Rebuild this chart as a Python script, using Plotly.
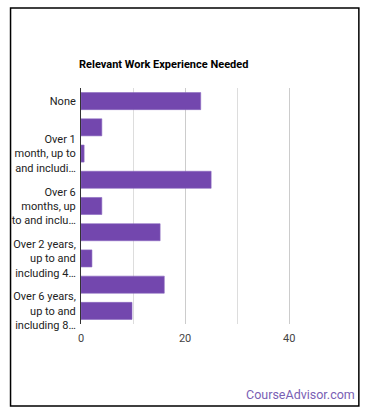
import plotly.graph_objects as go

categories = [
    "None",
    "Up to and including 1 month",
    "Over 1 month, up to and including 3 months",
    "Over 3 months, up to and including 6 months",
    "Over 6 months, up to and including 1 year",
    "Over 1 year, up to and including 2 years",
    "Over 2 years, up to and including 4 years",
    "Over 4 years, up to and including 6 years",
    "Over 6 years, up to and including 8 years",
]
values = [23, 4, 0.6, 25, 4, 15.2, 2.1, 16, 9.8]

label_categories = [categories[i] for i in (0, 2, 4, 6, 8)]
label_texts = [
    "None",
    "Over 1<br>month, up to<br>and includi…",
    "Over 6<br>months, up<br>to and inclu…",
    "Over 2 years,<br>up to and<br>including 4…",
    "Over 6 years,<br>up to and<br>including 8…",
]
x_ticks = [0, 20, 40]

W, H = 370, 417
ML, MR, MT, MB = 79, 29, 88, 93
pw, ph = W - ML - MR, H - MT - MB

fig = go.Figure(go.Bar(
    y=categories, x=values, orientation="h",
    marker=dict(color="#7347AE", line=dict(color="#8A68BF", width=0.6)),
    width=0.65, hoverinfo="x+y",
))

def px_x(p):
    return (p - ML) / pw

def px_y(p):
    return (H - MB - p) / ph

fig.update_layout(
    width=W, height=H,
    margin=dict(l=ML, r=MR, t=MT, b=MB, pad=0),
    paper_bgcolor="white", plot_bgcolor="white",
    font=dict(family="Roboto", size=11, color="#222"),
    showlegend=False,
    title=dict(text="<b>Relevant Work Experience Needed</b>",
               font=dict(family="Roboto", size=11, color="#000"),
               x=ML / W, xanchor="left", xref="container",
               y=1 - 64 / H, yanchor="middle", yref="container"),
    xaxis=dict(range=[0, 49.95], tickvals=x_ticks, showgrid=True,
               gridcolor="#cccccc", gridwidth=1, zeroline=False,
               showline=False, ticks="", ticklabelstandoff=6,
               tickfont=dict(size=11, color="#444"),
               minor=dict(dtick=10, showgrid=True, gridcolor="#dddddd", gridwidth=1),
               fixedrange=True),
    yaxis=dict(autorange="reversed", tickmode="array",
               tickvals=label_categories, ticktext=label_texts,
               showgrid=False, showline=True, linecolor="#333", linewidth=1,
               ticks="", ticklabelstandoff=2,
               tickfont=dict(size=11, color="#222"), fixedrange=True),
    shapes=[dict(type="rect", xref="paper", yref="paper",
                 x0=px_x(8), x1=px_x(359), y0=px_y(406), y1=px_y(8),
                 line=dict(color="#000", width=1.5), layer="below")],
    annotations=[dict(text="CourseAdvisor.com", xref="paper", yref="paper",
                      x=px_x(357), y=px_y(395), xanchor="right", yanchor="middle",
                      showarrow=False,
                      font=dict(family="Roboto", size=12.5, color="#7A5FB5"))],
)

fig.write_html("out.html", config={"displayModeBar": False},
               post_script="document.body.style.margin='0';document.body.style.overflow='hidden';")
